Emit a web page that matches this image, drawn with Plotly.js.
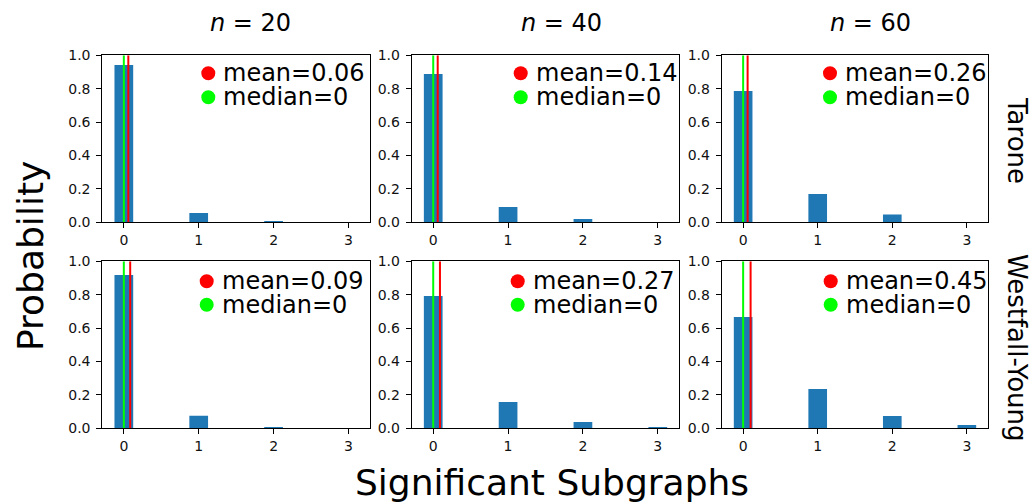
<!DOCTYPE html>
<html>
<head>
<meta charset="utf-8">
<script src="https://cdn.plot.ly/plotly-3.0.1.min.js"></script>
<style>html,body{margin:0;padding:0;background:#fff;}#chart{width:1033px;height:504px;}</style>
</head>
<body>
<div id="chart"></div>
<script>
// ---- data ----
const categories = [0, 1, 2, 3];
const columnTitles = ["<i>n</i> = 20", "<i>n</i> = 40", "<i>n</i> = 60"];
const rowTitles = ["Tarone", "Westfall-Young"];
const taroneProb = [
  [0.942, 0.056, 0.008, 0.0],
  [0.888, 0.092, 0.020, 0.0],
  [0.786, 0.170, 0.046, 0.0]
];
const westfallProb = [
  [0.918, 0.075, 0.008, 0.0],
  [0.792, 0.158, 0.038, 0.008],
  [0.667, 0.235, 0.074, 0.020]
];
const taroneMeanLabel = ["0.06", "0.14", "0.26"];
const westfallMeanLabel = ["0.09", "0.27", "0.45"];
const medianLabel = ["0", "0", "0"];
// positions of the drawn mean / median lines as seen in the picture
const taroneMeanLine = [0.06, 0.06, 0.06];
const westfallMeanLine = [0.085, 0.09, 0.10];
const medianLine = [0, 0, 0];
const yTicks = [0, 0.2, 0.4, 0.6, 0.8, 1.0];

// ---- layout helpers ----
const W = 1033, H = 504;
const colX = [[102.3, 370.0], [411.7, 679.3], [721.7, 988.3]];
const rowY = [[55.3, 222.3], [261.3, 428.3]];
const legendCircleX = [[106, 109, 108.3], [104.4, 106, 109]];
const legendRowDy = [[18, 42], [20, 43.5]];
const FONT = "DejaVu Sans";

const traces = [];
const layout = {
  width: W, height: H,
  margin: {l: 0, r: 0, t: 0, b: 0},
  paper_bgcolor: "#fff", plot_bgcolor: "#fff",
  showlegend: false,
  font: {family: FONT, color: "#000"},
  annotations: [], shapes: []
};

const probs = [taroneProb, westfallProb];
const meanLines = [taroneMeanLine, westfallMeanLine];
const meanLabels = [taroneMeanLabel, westfallMeanLabel];

let idx = 0;
for (let r = 0; r < 2; r++) {
  for (let c = 0; c < 3; c++) {
    idx++;
    const xa = idx === 1 ? "xaxis" : "xaxis" + idx;
    const ya = idx === 1 ? "yaxis" : "yaxis" + idx;
    const xr = idx === 1 ? "x" : "x" + idx;
    const yr = idx === 1 ? "y" : "y" + idx;
    const axCommon = {
      showline: true, mirror: true, linecolor: "#000", linewidth: 1,
      showgrid: false, zeroline: false, ticks: "outside", ticklen: 5,
      tickwidth: 1, tickcolor: "#000",
      tickfont: {family: FONT, size: 14, color: "#111"}, fixedrange: true
    };
    layout[xa] = Object.assign({}, axCommon, {
      domain: [colX[c][0] / W, colX[c][1] / W],
      range: [-0.2875, 3.2875], tickvals: categories, ticktext: categories.map(String),
      anchor: yr
    });
    layout[ya] = Object.assign({}, axCommon, {
      domain: [1 - rowY[r][1] / H, 1 - rowY[r][0] / H],
      range: [0, 1], tickvals: yTicks, ticktext: yTicks.map(v => v.toFixed(1)),
      anchor: xr, ticklabelstandoff: 3
    });
    traces.push({
      type: "bar", x: categories, y: probs[r][c], width: 0.25,
      marker: {color: "#1f77b4", line: {width: 0}},
      xaxis: xr, yaxis: yr, hoverinfo: "skip"
    });
    traces.push({
      type: "scatter", mode: "lines", x: [medianLine[c], medianLine[c]], y: [0, 1],
      line: {color: "#00ff00", width: 2}, xaxis: xr, yaxis: yr, hoverinfo: "skip"
    });
    traces.push({
      type: "scatter", mode: "lines", x: [meanLines[r][c], meanLines[r][c]], y: [0, 1],
      line: {color: "#ff0000", width: 2}, xaxis: xr, yaxis: yr, hoverinfo: "skip"
    });
    // legend entries
    const pw = colX[c][1] - colX[c][0], ph = rowY[r][1] - rowY[r][0];
    const cx = legendCircleX[r][c] / pw;
    const tx = (legendCircleX[r][c] + 13) / pw;
    const entries = [
      {color: "#ff0000", text: "mean=" + meanLabels[r][c], dy: legendRowDy[r][0]},
      {color: "#00ff00", text: "median=" + medianLabel[c], dy: legendRowDy[r][1]}
    ];
    entries.forEach(e => {
      const yy = 1 - e.dy / ph;
      layout.shapes.push({
        type: "circle", xref: xr + " domain", yref: yr + " domain",
        xsizemode: "pixel", ysizemode: "pixel", xanchor: cx, yanchor: yy,
        x0: -7, x1: 7, y0: -7, y1: 7,
        fillcolor: e.color, line: {width: 0}
      });
      layout.annotations.push({
        xref: xr + " domain", yref: yr + " domain", x: tx, y: yy,
        xanchor: "left", yanchor: "middle", showarrow: false,
        text: e.text, font: {family: FONT, size: 24, color: "#000"}
      });
    });
  }
}

const colTitleX = [250, 561, 870];
columnTitles.forEach((t, i) => {
  layout.annotations.push({
    xref: "paper", yref: "paper", x: colTitleX[i] / W, y: 1 - 23 / H,
    xanchor: "center", yanchor: "middle", showarrow: false,
    text: t, font: {family: FONT, size: 24, color: "#000"}
  });
});
const rowTitleY = [140, 348];
rowTitles.forEach((t, i) => {
  layout.annotations.push({
    xref: "paper", yref: "paper", x: 1017 / W, y: 1 - rowTitleY[i] / H,
    xanchor: "center", yanchor: "middle", showarrow: false, textangle: 90,
    text: t, font: {family: FONT, size: 26, color: "#000"}
  });
});
layout.annotations.push({
  xref: "paper", yref: "paper", x: 30 / W, y: 1 - 256 / H,
  xanchor: "center", yanchor: "middle", showarrow: false, textangle: -90,
  text: "Probability", font: {family: FONT, size: 36, color: "#000"}
});
layout.annotations.push({
  xref: "paper", yref: "paper", x: 552 / W, y: 1 - 482 / H,
  xanchor: "center", yanchor: "middle", showarrow: false,
  text: "Significant Subgraphs", font: {family: FONT, size: 36, color: "#000"}
});

Plotly.newPlot("chart", traces, layout, {displayModeBar: false, staticPlot: true});
</script>
</body>
</html>
